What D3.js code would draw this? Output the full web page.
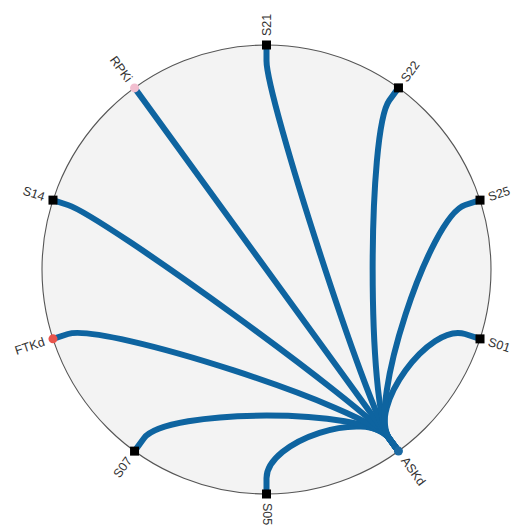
<!DOCTYPE html>
<html>
<head>
<meta charset="utf-8">
<script src="https://cdn.jsdelivr.net/npm/d3@7"></script>
<style>
  html, body { margin: 0; padding: 0; background: #fff; }
  svg { display: block; }
</style>
</head>
<body>
<div id="chart"></div>
<script>
// nodes in clockwise order, starting just below 3 o'clock
const nodes = ['S01', 'ASKd', 'S05', 'S07', 'FTKd', 'S14', 'RPKi', 'S21', 'S22', 'S25'];

// every link goes from the hub node
const hub = 'ASKd';
const linkTargets = ['S01', 'S05', 'S07', 'FTKd', 'S14', 'RPKi', 'S21', 'S22', 'S25'];

// marker look per node (anything not listed is a black square)
const markerStyle = {
    ASKd: { shape: 'circle', fill: '#1c6aa3' },
    FTKd: { shape: 'circle', fill: '#e8544c' },
    RPKi: { shape: 'circle', fill: '#f2bfd0' }
};

const width = 515,
    height = 529,
    cx = 266.5,
    cy = 269.5,
    r = 224.5,
    inner = 0.93,   // where the edges leave the rim
    pull = 0.18;    // how much the curve bends toward the centre

const svg = d3.select('#chart')
    .append('svg')
    .attr('width', width)
    .attr('height', height);

const angle = d3.scaleLinear()
    .domain([0, nodes.length])
    .range([18, 378]);

const radial = d3.scaleLinear()
    .domain([0, 1])
    .range([0, r]);

function pos(name, k) {
    let a = angle(nodes.indexOf(name)) * Math.PI / 180;
    return [cx + radial(k) * Math.cos(a), cy + radial(k) * Math.sin(a)];
}

svg.append('circle')
    .attr('cx', cx)
    .attr('cy', cy)
    .attr('r', r)
    .style('fill', '#f3f3f3')
    .style('stroke', '#555')
    .style('stroke-width', 1.1);

// edges
function edgePath(a, b) {
    let p0 = pos(a, 1),
        p1 = pos(a, inner),
        p2 = pos(b, inner),
        p3 = pos(b, 1),
        c1 = [p1[0] + (cx - p1[0]) * pull, p1[1] + (cy - p1[1]) * pull],
        c2 = [p2[0] + (cx - p2[0]) * pull, p2[1] + (cy - p2[1]) * pull],
        path = d3.path();
    path.moveTo(p0[0], p0[1]);
    path.lineTo(p1[0], p1[1]);
    path.bezierCurveTo(c1[0], c1[1], c2[0], c2[1], p2[0], p2[1]);
    path.lineTo(p3[0], p3[1]);
    return path.toString();
}

svg.append('g')
    .selectAll('path')
    .data(linkTargets)
    .enter()
    .append('path')
    .attr('d', d => edgePath(d, hub))
    .style('fill', 'none')
    .style('stroke', '#0e64a0')
    .style('stroke-width', 6)
    .style('stroke-linejoin', 'round')
    .style('stroke-linecap', 'round');

// markers
nodes.forEach(function (name) {
    let p = pos(name, 1),
        st = markerStyle[name];
    if (st) {
        svg.append('circle')
            .attr('cx', p[0])
            .attr('cy', p[1])
            .attr('r', 4.5)
            .style('fill', st.fill);
    } else {
        svg.append('rect')
            .attr('x', p[0] - 4.5)
            .attr('y', p[1] - 4.5)
            .attr('width', 9)
            .attr('height', 9)
            .style('fill', '#000');
    }
});

// labels, rotated along the radius
nodes.forEach(function (name) {
    let a = angle(nodes.indexOf(name)),
        rad = a * Math.PI / 180,
        x = cx + (r + 9) * Math.cos(rad),
        y = cy + (r + 9) * Math.sin(rad),
        flip = Math.cos(rad) < -1e-6;
    svg.append('text')
        .attr('transform', 'translate(' + x + ',' + y + ') rotate(' + (flip ? a + 180 : a) + ')')
        .attr('text-anchor', flip ? 'end' : 'start')
        .attr('dominant-baseline', 'central')
        .style('font-family', '"Liberation Sans", Arial, sans-serif')
        .style('font-size', '12.5px')
        .style('fill', '#333')
        .text(name);
});
</script>
</body>
</html>
